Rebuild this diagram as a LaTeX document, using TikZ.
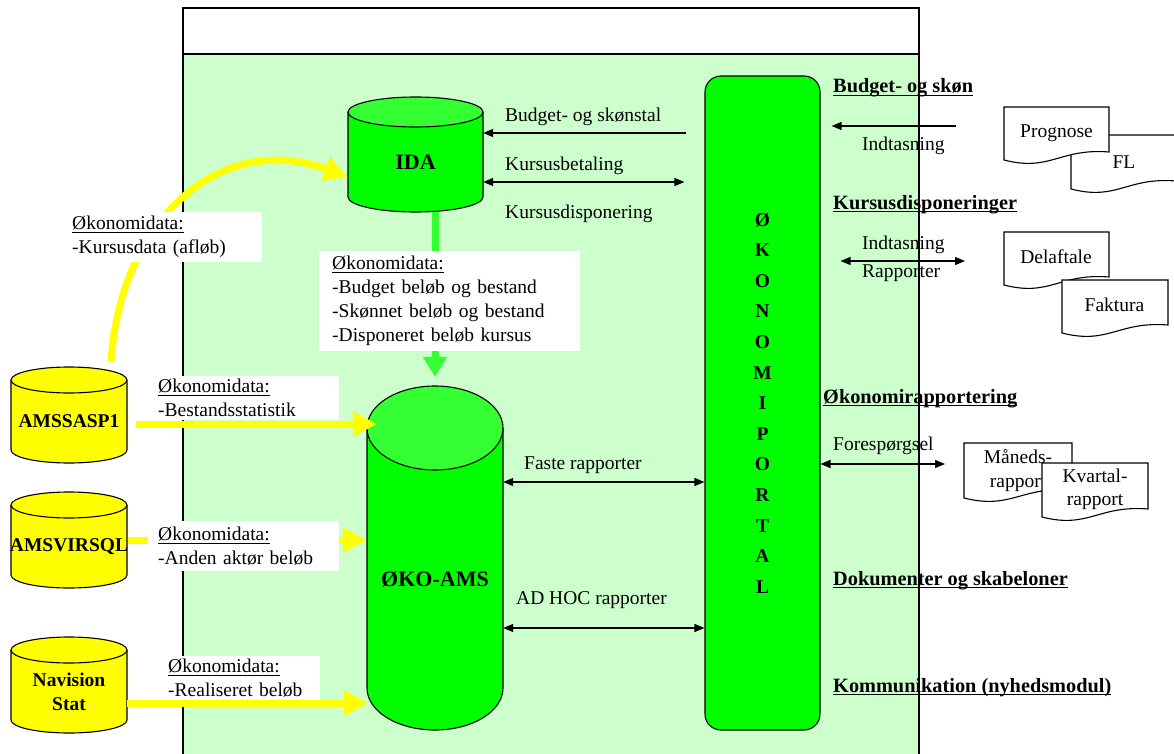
\documentclass[tikz,border=0pt]{standalone}
\usepackage{fontspec}
\setmainfont{Liberation Serif}
\usetikzlibrary{arrows.meta}
\definecolor{bglight}{HTML}{CCFFCC}
\definecolor{grn}{HTML}{00FF00}
\definecolor{grntop}{HTML}{33FF33}
\definecolor{yel}{HTML}{FFFF00}
\newsavebox\ulbox
\newcommand\ulin[2][1pt]{\sbox\ulbox{#2}\rlap{\rule[-3pt]{\wd\ulbox}{#1}}\usebox\ulbox}
% cylinder: name, cx, halfwidth, top-ellipse centre y, bottom y, ry, body colour, top colour, label
\newcommand\dbcyl[9]{%
  \fill[#7] ({#2-#3},-#4) -- ({#2-#3},{-(#5-#6)}) arc[start angle=180,end angle=360,x radius=#3,y radius=#6] -- ({#2+#3},-#4) -- cycle;
  \draw[outl] ({#2-#3},-#4) -- ({#2-#3},{-(#5-#6)}) arc[start angle=180,end angle=360,x radius=#3,y radius=#6] -- ({#2+#3},-#4);
  \draw[outl,fill=#8] (#2,-#4) ellipse[x radius=#3,y radius=#6];
  \node[cyllabel, minimum width={2*#3}, minimum height={#5-#4}] (#1) at (#2,{-(#4+#5)/2}) {#9};
}
% document shape: x1, x2, top, bottom-left
\newcommand\docsh[4]{%
  \draw[outl,fill=white] (#1,-#3) -- (#2,-#3) -- (#2,-#4+8) .. controls ({#1+0.53*(#2-#1)},-#4+12) and ({#1+0.44*(#2-#1)},-#4-12) .. (#1,-#4) -- cycle;
}
\begin{document}
\begin{tikzpicture}[x=1pt,y=1pt,
  font=\fontsize{19.5}{24}\selectfont,
  outl/.style={line width=1.1pt},
  frame/.style={line width=1.3pt},
  cyllabel/.style={inner sep=0pt, align=center, font=\bfseries\fontsize{19.5}{24}\selectfont},
  lbl/.style={fill=white, anchor=north west, align=left, inner ysep=0pt, inner xsep=10pt},
  txt/.style={anchor=base west, inner sep=0pt},
  ctxt/.style={anchor=base, inner sep=0pt},
  hdr/.style={anchor=base west, inner sep=0pt, font=\bfseries\fontsize{20.3}{24}\selectfont},
  yarr/.style={draw=yel, line width=7pt, -{Triangle[length=24pt,width=24pt]}},
  garr/.style={draw=grntop, line width=7pt, -{Triangle[length=20pt,width=23pt]}},
  thinarr/.style={line width=1.3pt, -{Triangle[length=10pt,width=8pt]}},
  dblarr/.style={line width=1.3pt, {Triangle[length=10pt,width=8pt]}-{Triangle[length=10pt,width=8pt]}}
]
\useasboundingbox (0,0) rectangle (1174,-754);
\clip (0,0) rectangle (1174,-754);
\fill[white] (0,0) rectangle (1174,-754);
% frame
\fill[white] (183,-8) rectangle (919,-54);
\fill[bglight] (183,-54) rectangle (919,-760);
\draw[frame] (183,-760) -- (183,-8) -- (919,-8) -- (919,-760);
\draw[frame] (183,-54) -- (919,-54);

% cylinders
\dbcyl{ida}{415.5}{67.5}{112}{212}{15}{grn}{grntop}{\fontsize{22}{26}\selectfont IDA}
\dbcyl{ams}{435}{68}{428}{730}{42}{grn}{grntop}{\fontsize{22}{26}\selectfont ØKO-AMS}
\dbcyl{sasp}{69}{58}{380}{463}{13}{yel}{yel}{AMSSASP1}
\dbcyl{virs}{69}{58}{505}{588}{13}{yel}{yel}{AMSVIRSQL}
\dbcyl{nav}{69}{58}{650}{733}{13}{yel}{yel}{Navision\\Stat}

% yellow curve and its label
\draw[yarr] ([shift={(42,18)}]sasp.north) .. controls (120,-220) and (220,-130) .. ([yshift=-15pt]ida.west);
\node[lbl, text width=180pt, minimum height=50pt] (lcurve) at (62,-212) {\ulin{Økonomidata:}\\-Kursusdata (afløb)};

% green arrow IDA -> ØKO-AMS
\draw[garr] (ida.south -| ams.north) -- ([yshift=51pt]ams.north);
\node[lbl, inner xsep=13pt, text width=235pt, minimum height=100pt] (lida) at (319,-251) {\ulin{Økonomidata:}\\-Budget beløb og bestand\\-Skønnet beløb og bestand\\-Disponeret beløb kursus};

% yellow straight arrows
\draw[yarr] ([shift={(9pt,-2.5pt)}]sasp.east) -- ([shift={(10pt,155pt)}]ams.west);
\draw[yarr] ([yshift=6.5pt]virs.east) -- ([yshift=39pt]ams.west);
\draw[yarr] ([yshift=-11.5pt]nav.east) -- ([shift={(1pt,-124pt)}]ams.west);
\node[lbl, text width=171pt, minimum height=44pt] (lsasp) at (148,-376) {\ulin{Økonomidata:}\\-Bestandsstatistik};
\node[lbl, text width=171pt, minimum height=50pt] (lvirs) at (148,-521) {\ulin{Økonomidata:}\\-Anden aktør beløb};
\node[lbl, text width=142pt, minimum height=44pt] (lnav) at (158,-656) {\ulin{Økonomidata:}\\-Realiseret beløb};

% portal
\node[draw, line width=1.1pt, fill=grn, rounded corners=16pt, minimum width=115pt, minimum height=654pt, inner sep=0pt, align=center, font=\bfseries\fontsize{19.5}{30.6}\selectfont] (portal) at (762.5,-403) {Ø\\K\\O\\N\\O\\M\\I\\P\\O\\R\\T\\A\\L};

% thin arrows between IDA / ØKO-AMS and portal
\draw[thinarr] ([shift={(-18pt,270pt)}]portal.west) -- ([yshift=29pt]ida.east);
\draw[dblarr] ([yshift=-20pt]ida.east) -- ([shift={(-20pt,221pt)}]portal.west);
\draw[dblarr] ([yshift=97pt]ams.east) -- ([yshift=-79pt]portal.west);
\draw[dblarr] ([yshift=-49pt]ams.east) -- ([yshift=-225pt]portal.west);
\node[txt] (t1) at (505,-122) {Budget- og skønstal};
\node[txt] (t2) at (505,-171) {Kursusbetaling};
\node[txt] (t3) at (505,-218) {Kursusdisponering};
\node[txt] (t4) at (524,-469) {Faste rapporter};
\node[txt] (t5) at (516,-604) {AD HOC rapporter};

% right side
\node[hdr] (h1) at (833,-93) {\ulin[1.3pt]{Budget- og skøn}};
\node[hdr] (h2) at (833,-209) {\ulin[1.3pt]{Kursusdisponeringer}};
\node[hdr] (h3) at (823,-403) {\ulin[1.3pt]{Økonomirapportering}};
\node[hdr] (h4) at (833,-585) {\ulin[1.3pt]{Dokumenter og skabeloner}};
\node[hdr] (h5) at (833,-692) {\ulin[1.3pt]{Kommunikation (nyhedsmodul)}};

\coordinate (inEnd) at (956,-126);
\draw[thinarr] (inEnd) -- ([shift={(11pt,277pt)}]portal.east);
\node[txt] (r1) at (862,-151) {Indtasning};
\coordinate (kdEnd) at (965,-261);
\draw[dblarr] ([shift={(20pt,142pt)}]portal.east) -- (kdEnd);
\node[txt] (r2) at (862,-249) {Indtasning};
\node[txt] (r3) at (862,-277) {Rapporter};
\coordinate (foEnd) at (945,-464);
\draw[dblarr] ([yshift=-61pt]portal.east) -- (foEnd);
\node[txt] (r4) at (833,-450) {Forespørgsel};

% documents
\docsh{1071}{1176}{135}{189}
\node[ctxt] (fl) at (1124,-168) {FL};
\docsh{1004}{1109}{107}{160}
\node[ctxt] (prog) at (1056.5,-138) {Prognose};
\docsh{1004}{1109}{232}{285}
\node[ctxt] (delaf) at (1056,-263) {Delaftale};
\docsh{1062}{1168}{280}{333}
\node[ctxt] (fakt) at (1114.5,-311) {Faktura};
\docsh{964}{1072}{443}{498}
\node[ctxt] (maan1) at (1018,-463) {Måneds-};
\node[ctxt] (maan2) at (1018,-487) {rapport};
\docsh{1042}{1148}{463}{517}
\node[ctxt] (kvart1) at (1095,-482) {Kvartal-};
\node[ctxt] (kvart2) at (1095,-505) {rapport};
\end{tikzpicture}
\end{document}
